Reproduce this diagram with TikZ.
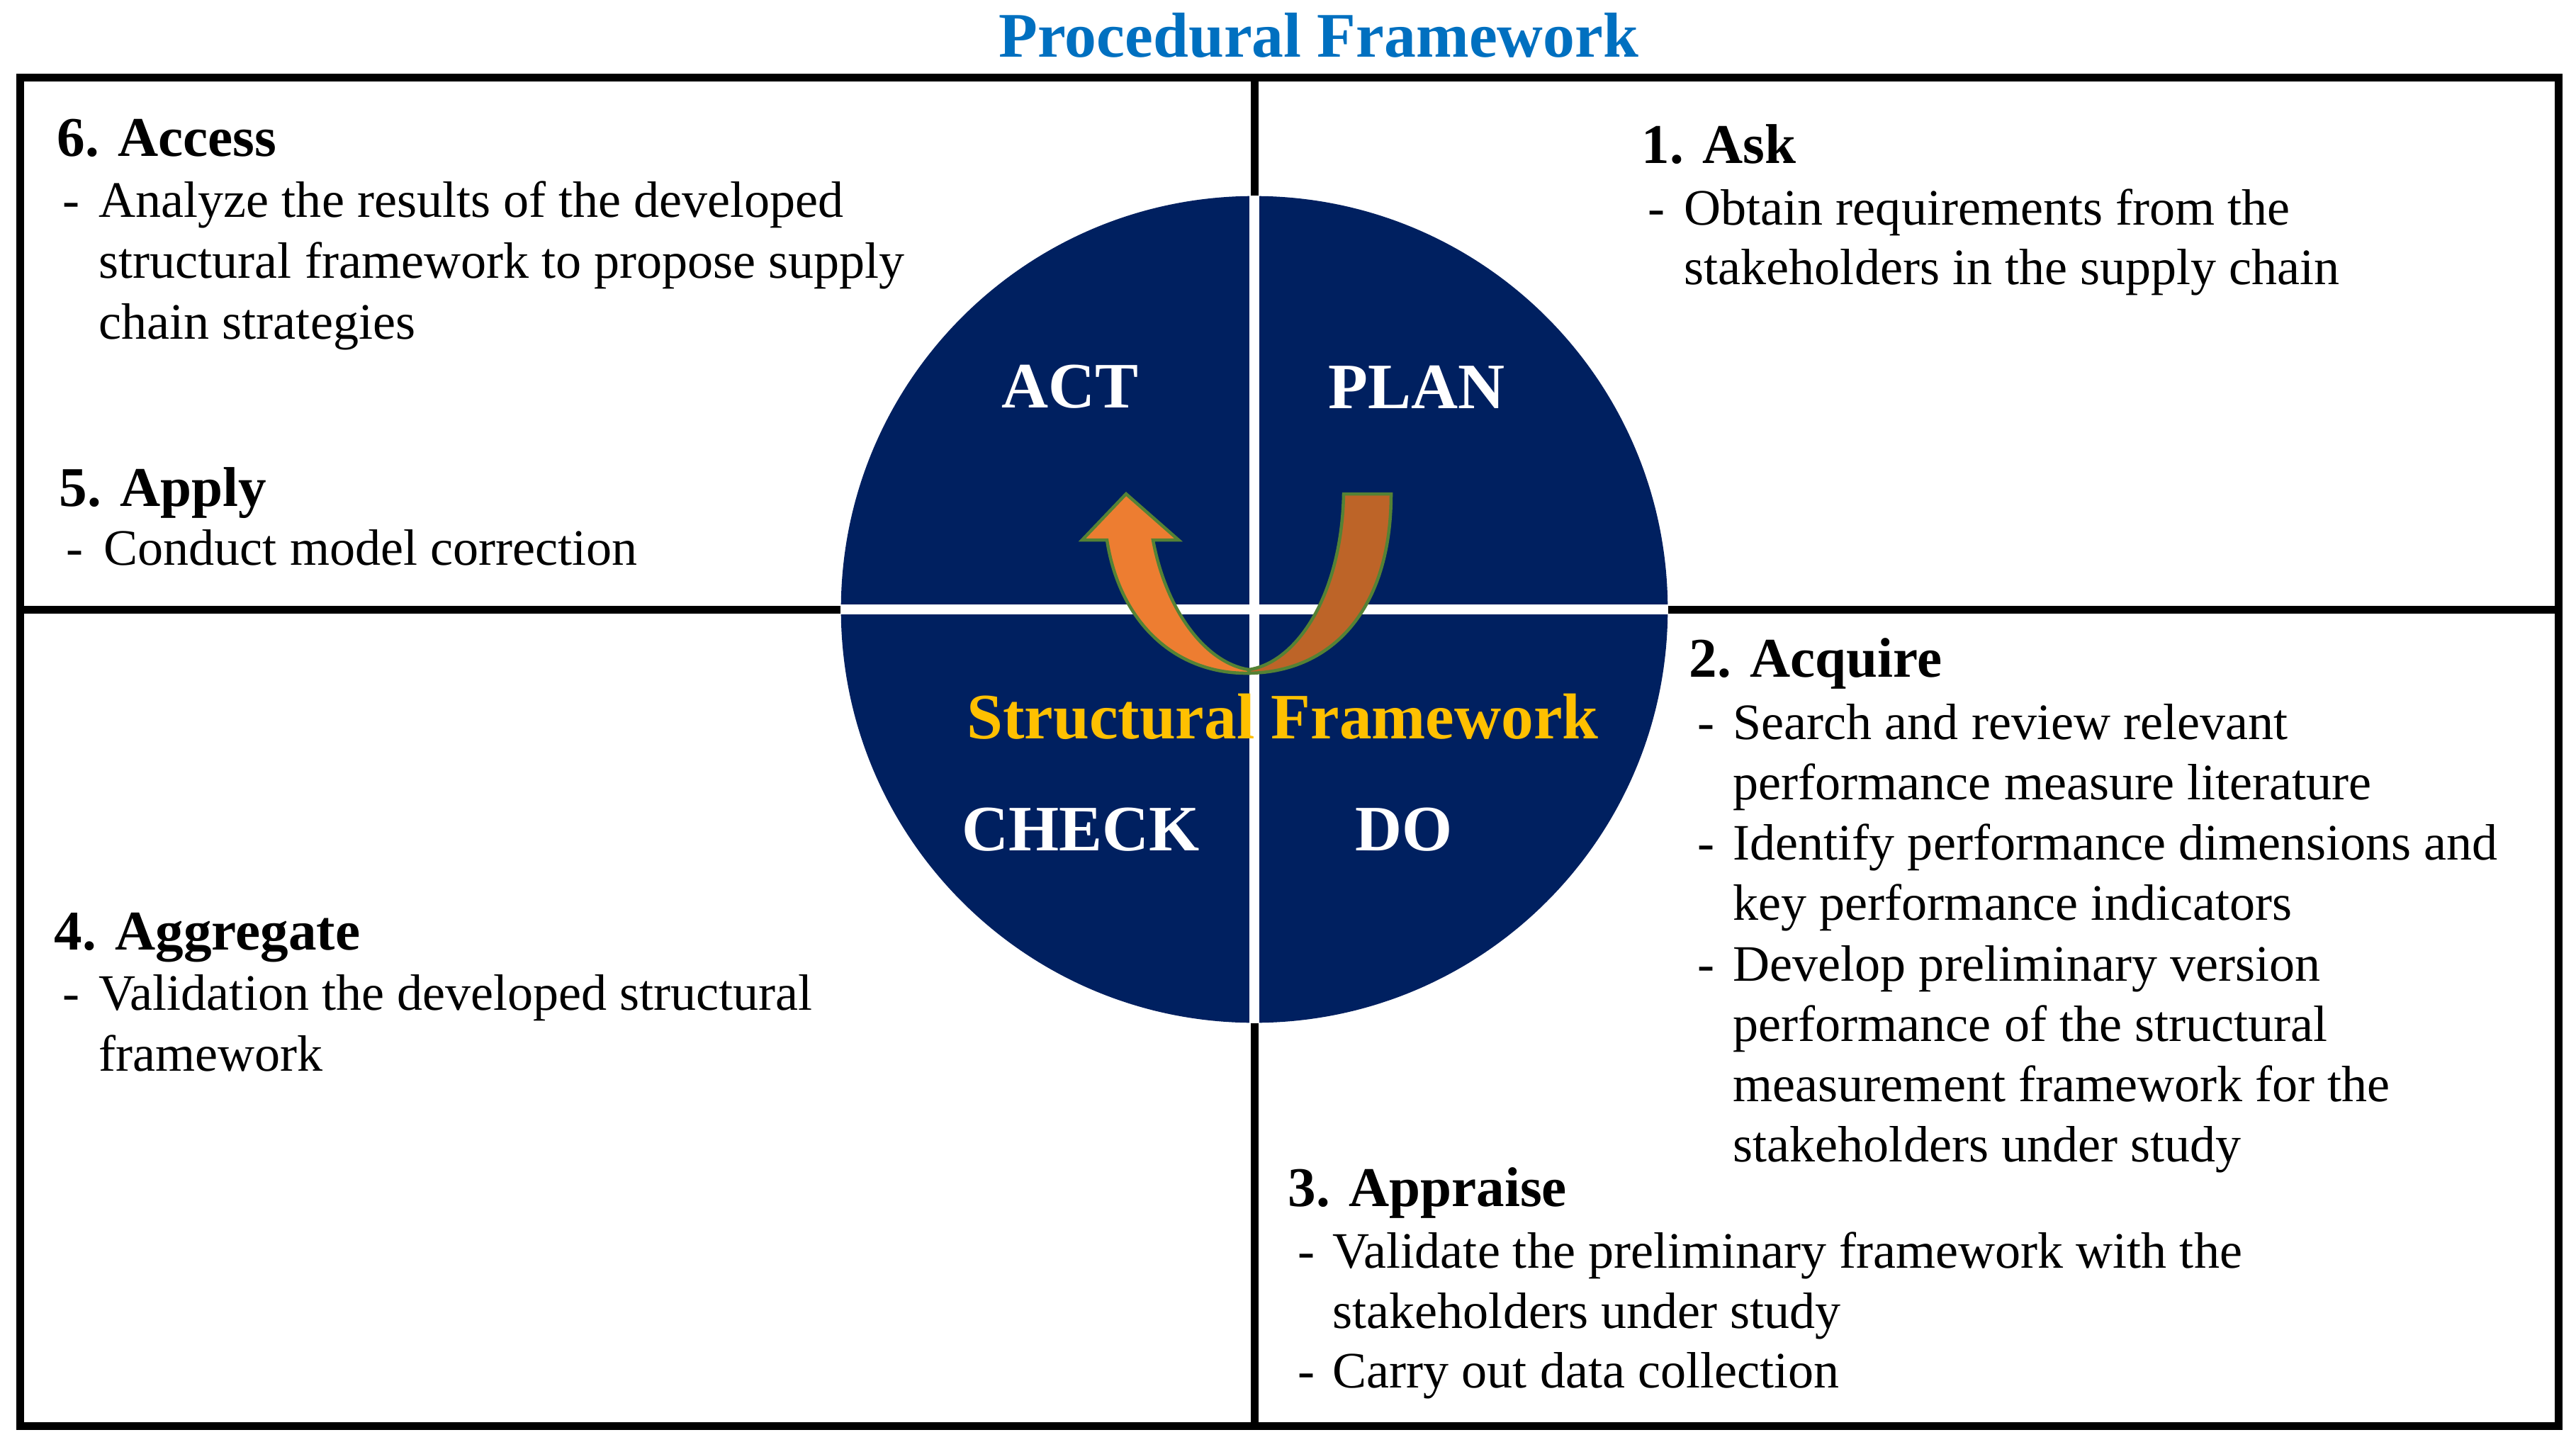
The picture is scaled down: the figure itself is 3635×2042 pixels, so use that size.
\documentclass[tikz,border=0pt]{standalone}
\usepackage{fontspec}
\setmainfont{Liberation Serif}
\definecolor{navy}{HTML}{002060}
\definecolor{titleblue}{HTML}{0070C0}
\definecolor{gold}{HTML}{FFC000}
\definecolor{orangeL}{HTML}{ED7D31}
\definecolor{orangeD}{HTML}{BD6428}
\definecolor{outlinegreen}{HTML}{548235}
\tikzset{
  frameline/.style={line width=0.11cm, black},
  crossline/.style={line width=0.14cm, white},
  head/.style={font=\fontsize{22.5}{27}\selectfont\bfseries, anchor=base west, inner sep=0},
  body/.style={font=\fontsize{20.5}{24.5}\selectfont, anchor=base west, inner sep=0},
  bul/.style={font=\fontsize{20.5}{24.5}\selectfont, anchor=base west, inner sep=0},
  pdcalabel/.style={font=\fontsize{26}{31}\selectfont\bfseries, text=white, inner sep=0},
  arrowband/.style={draw=outlinegreen, line width=0.045cm, line join=miter}
}
\begin{document}
\begin{tikzpicture}[x=0.01cm, y=-0.01cm]
\useasboundingbox (0,0) rectangle (3635,2042);

% title
\node[font=\fontsize{25.5}{30}\selectfont\bfseries, text=titleblue, anchor=base, inner sep=0] (title) at (1861,80) {Procedural Framework};

% frame and dividers
\coordinate (fL) at (28.5,860);
\coordinate (fR) at (3610,860);
\coordinate (fT) at (1770,109.5);
\coordinate (fB) at (1770,2012);
\draw[frameline] (28.5,109.5) rectangle (3610,2012);
\draw[frameline] (fL) -- (fR);
\draw[frameline] (fT) -- (fB);

% PDCA circle
\node[circle, fill=navy, minimum size=11.66cm, inner sep=0] (pdca) at (1770,860) {};
\draw[crossline] (pdca.west) -- (pdca.east);
\draw[crossline] (pdca.north) -- (pdca.south);

% U-turn arrow: back (right) band
\filldraw[arrowband, fill=orangeD]
  (1896,697) -- (1963,697)
  .. controls (1963,860) and (1880,948) .. (1763,950)
  -- (1762,945)
  .. controls (1830,935) and (1893,840) .. (1896,697) -- cycle;
% front (left) band with head
\filldraw[arrowband, fill=orangeL]
  (1589,697) -- (1663,762) -- (1627,762)
  .. controls (1645,860) and (1700,935) .. (1762,945)
  -- (1763,950)
  .. controls (1660,952) and (1580,880) .. (1562,762)
  -- (1527,762) -- cycle;

% circle labels
\node[pdcalabel] (act) at (1510,546) {ACT};
\node[pdcalabel] (plan) at (1999,546) {PLAN};
\node[pdcalabel] (check) at (1525,1171) {CHECK};
\node[pdcalabel] (do) at (1981,1171) {DO};
\node[font=\fontsize{26}{31}\selectfont\bfseries, text=gold, inner sep=0] (sf) at (1810,1011) {Structural Framework};

% 6. Access
\node[head] (h6) at (80,220) {6. Access};
\node[bul] (d6a) at (88,306) {-};
\node[body] (t6a) at (139,306) {Analyze the results of the developed};
\node[body] (t6b) at (139,392) {structural framework to propose supply};
\node[body] (t6c) at (139,478) {chain strategies};

% 5. Apply
\node[head] (h5) at (83,714) {5. Apply};
\node[bul] (d5a) at (93,797) {-};
\node[body] (t5a) at (146,797) {Conduct model correction};

% 1. Ask
\node[head] (h1) at (2316,230) {1. Ask};
\node[bul] (d1a) at (2325,317) {-};
\node[body] (t1a) at (2376,317) {Obtain requirements from the};
\node[body] (t1b) at (2376,401) {stakeholders in the supply chain};

% 2. Acquire
\node[head] (h2) at (2383,955) {2. Acquire};
\node[bul] (d2a) at (2395,1043) {-};
\node[body] (t2a) at (2445,1043) {Search and review relevant};
\node[body] (t2b) at (2445,1128) {performance measure literature};
\node[bul] (d2b) at (2395,1213) {-};
\node[body] (t2c) at (2445,1213) {Identify performance dimensions and};
\node[body] (t2d) at (2445,1298) {key performance indicators};
\node[bul] (d2c) at (2395,1384) {-};
\node[body] (t2e) at (2445,1384) {Develop preliminary version};
\node[body] (t2f) at (2445,1469) {performance of the structural};
\node[body] (t2g) at (2445,1554) {measurement framework for the};
\node[body] (t2h) at (2445,1639) {stakeholders under study};

% 3. Appraise
\node[head] (h3) at (1817,1702) {3. Appraise};
\node[bul] (d3a) at (1831,1789) {-};
\node[body] (t3a) at (1880,1789) {Validate the preliminary framework with the};
\node[body] (t3b) at (1880,1874) {stakeholders under study};
\node[bul] (d3b) at (1831,1958) {-};
\node[body] (t3c) at (1880,1958) {Carry out data collection};

% 4. Aggregate
\node[head] (h4) at (76,1340) {4. Aggregate};
\node[bul] (d4a) at (88,1425) {-};
\node[body] (t4a) at (139,1425) {Validation the developed structural};
\node[body] (t4b) at (139,1511) {framework};
\end{tikzpicture}
\end{document}
